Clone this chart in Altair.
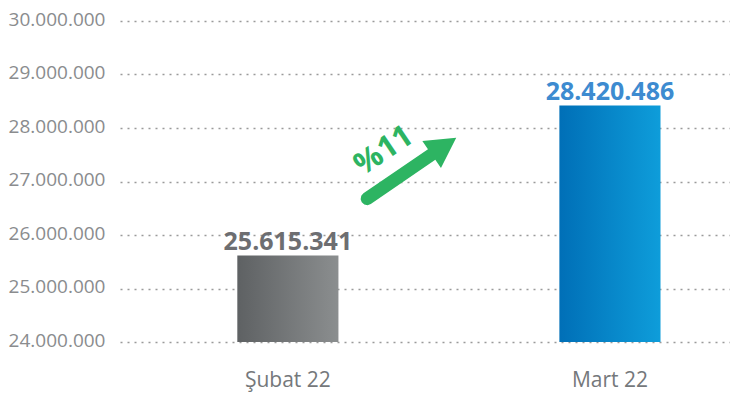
import altair as alt
import pandas as pd

months = ["Şubat 22", "Mart 22"]
values = [25615341, 28420486]
y_ticks = [24000000, 25000000, 26000000, 27000000, 28000000, 29000000, 30000000]
change_label = "%11"

df = pd.DataFrame({"month": months, "value": values})

FONT = "Open Sans"
GREY = "#6d6e71"
BLUE = "#3d8bd0"
GREEN = "#2db462"

x_enc = alt.X("month:N", sort=months, title=None,
              scale=alt.Scale(paddingInner=0.686, paddingOuter=0.29, align=0.628),
              axis=alt.Axis(labelAngle=0, labelFontSize=21, labelColor="#75787b",
                            labelFont=FONT, labelPadding=27, domain=False, ticks=False,
                            grid=False))
y_enc = alt.Y("value:Q", title=None,
              scale=alt.Scale(domain=[24000000, 30000000], nice=False, zero=False),
              axis=alt.Axis(values=y_ticks, format=",.0f", labelFontSize=19, labelColor="#8a8c8e",
                            labelFont=FONT, labelPadding=15, domain=False, ticks=False,
                            grid=True, gridDash=[2, 5], gridColor="#9a9a9a", gridWidth=1.4,
                            labelOffset=-2))

base = alt.Chart(df)

grey_grad = alt.Gradient(gradient="linear", x1=0, x2=1, y1=0, y2=0,
                         stops=[alt.GradientStop(color="#5e6163", offset=0),
                                alt.GradientStop(color="#8b8e8f", offset=1)])
blue_grad = alt.Gradient(gradient="linear", x1=0, x2=1, y1=0, y2=0,
                         stops=[alt.GradientStop(color="#006fb7", offset=0),
                                alt.GradientStop(color="#0e9dda", offset=1)])

bar1 = base.transform_filter(alt.datum.month == months[0]).mark_bar(color=grey_grad).encode(
    x=x_enc, y=y_enc, y2=alt.datum(24000000))
bar2 = base.transform_filter(alt.datum.month == months[1]).mark_bar(color=blue_grad).encode(
    x=x_enc, y=y_enc, y2=alt.datum(24000000))

labels = base.mark_text(font=FONT, fontSize=25, fontWeight="bold", baseline="alphabetic",
                        dy=-6).encode(
    x=x_enc, y=y_enc,
    text=alt.Text("value:Q", format=","),
    color=alt.Color("month:N", scale=alt.Scale(domain=months, range=[GREY, BLUE]), legend=None))

# growth arrow annotation (single custom symbol: rounded shaft + head)
ARROW_PATH = ("M-0.8458,-0.1083 L0.4575,-0.1083 L0.4575,-0.275 L0.954,0 L0.4575,0.275 "
              "L0.4575,0.1083 L-0.8458,0.1083 L-0.9,0.0938 L-0.9396,0.0542 L-0.9541,0 "
              "L-0.9396,-0.0542 L-0.9,-0.0938 Z")
arrow = alt.Chart(pd.DataFrame({"a": [0]})).mark_point(
    shape=ARROW_PATH, size=14400, filled=True, color=GREEN, opacity=1,
    angle=325.6, strokeWidth=0).encode(x=alt.value(289), y=alt.value(149))
pct = alt.Chart(pd.DataFrame({"a": [0]})).mark_text(
    text=change_label, font=FONT, fontSize=31, fontWeight="bold",
    color=GREEN, angle=326, align="center", baseline="middle").encode(
    x=alt.value(264), y=alt.value(130))

chart = alt.layer(bar1, bar2, labels, arrow, pct).properties(
    width=610, height=321,
    padding={"left": 0, "top": 2, "right": 0, "bottom": 4},
).configure(font=FONT).configure_view(stroke=None, strokeWidth=0).configure_axis(
    domain=False).configure_axisX(grid=False)

chart.save("out.html", embed_options={
    "renderer": "svg", "actions": False,
    "formatLocale": {"decimal": ",", "thousands": ".", "grouping": [3], "currency": ["", " TL"]}})
